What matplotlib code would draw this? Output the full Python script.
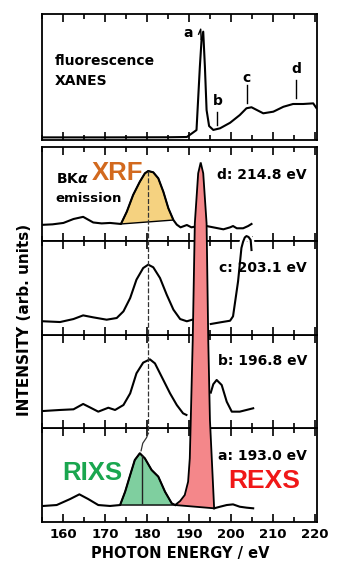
import matplotlib.pyplot as plt
import matplotlib.patheffects as pe
from matplotlib.ticker import MultipleLocator

plt.rcParams['font.family'] = 'DejaVu Sans'
plt.rcParams['font.weight'] = 'bold'
plt.rcParams['axes.labelweight'] = 'bold'

# fluorescence XANES (top panel)
xanes_e = [155.0, 170.0, 185.0, 189.5, 191.8, 192.6, 193.0, 193.4, 193.8, 194.2, 194.8, 195.8,
           197.4, 199.8, 202.1, 203.7, 204.9, 207.7, 210.1, 212.5, 214.8, 217.2, 219.6, 220.4]
xanes_i = [0.021, 0.021, 0.022, 0.024, 0.079, 0.582, 0.794, 0.860, 0.582, 0.238, 0.111, 0.080,
           0.093, 0.137, 0.198, 0.252, 0.260, 0.212, 0.225, 0.264, 0.286, 0.286, 0.291, 0.252]

# emission spectra, one panel per excitation energy
d_e = [155.2, 157.5, 160.1, 162.5, 164.8, 167.2, 169.2, 171.2, 173.8, 175.2, 176.7, 178.3,
       179.5, 180.3, 181.5, 182.7, 183.9, 185.1, 186.3, 187.1, 188.0, 189.5, 190.6, 191.3]
d_i = [0.170, 0.175, 0.190, 0.232, 0.255, 0.195, 0.185, 0.190, 0.179, 0.310, 0.488, 0.630,
       0.719, 0.744, 0.730, 0.666, 0.523, 0.346, 0.221, 0.172, 0.143, 0.168, 0.143, 0.150]
d_e2 = [194.2, 195.8, 198.2, 199.8, 200.5, 201.4, 202.9, 204.1, 204.9]
d_i2 = [0.157, 0.143, 0.122, 0.143, 0.157, 0.133, 0.133, 0.157, 0.179]

c_e = [155.3, 159.3, 162.5, 164.8, 167.2, 170.4, 172.8, 174.4, 176.0, 177.5, 179.1, 180.3,
       181.5, 183.1, 184.7, 186.3, 187.9, 189.5, 190.8]
c_i = [0.141, 0.133, 0.165, 0.204, 0.183, 0.158, 0.176, 0.247, 0.389, 0.585, 0.709, 0.745,
       0.717, 0.603, 0.425, 0.265, 0.165, 0.141, 0.158]
c_e2 = [195.2, 197.5, 199.8, 200.5, 201.1, 201.7, 202.5, 202.9, 203.3, 203.7, 204.2, 204.7, 204.9]
c_i2 = [0.112, 0.130, 0.147, 0.194, 0.380, 0.567, 0.923, 0.990, 1.035, 1.050, 1.040, 1.008, 0.901]

b_e = [155.3, 159.3, 162.5, 164.8, 166.4, 168.4, 170.8, 172.4, 174.4, 176.0, 177.5, 179.1,
       180.7, 181.9, 183.5, 185.5, 187.1, 188.6, 189.4]
b_i = [0.184, 0.195, 0.202, 0.259, 0.223, 0.177, 0.219, 0.195, 0.248, 0.372, 0.586, 0.700,
       0.735, 0.692, 0.550, 0.372, 0.248, 0.159, 0.142]
b_e2 = [195.2, 195.8, 196.6, 197.8, 199.0, 200.2, 202.1, 203.7, 205.3]
b_i2 = [0.380, 0.470, 0.515, 0.461, 0.283, 0.177, 0.177, 0.195, 0.213]

a_e = [155.3, 158.5, 161.7, 163.9, 166.0, 168.4, 171.2, 173.6, 174.8, 176.0, 177.1, 178.3,
       179.5, 181.1, 182.7, 184.3, 185.9, 186.7]
a_i = [0.171, 0.181, 0.245, 0.295, 0.245, 0.181, 0.171, 0.181, 0.323, 0.501, 0.661, 0.733,
       0.679, 0.555, 0.484, 0.323, 0.199, 0.181]
a_e2 = [196.0, 197.4, 199.0, 200.5, 202.1, 203.7, 205.3]
a_i2 = [0.146, 0.163, 0.181, 0.188, 0.163, 0.153, 0.146]

# elastic (REXS) peak outline, in units of the stacked panels (0..4)
rexs_e = [186.7, 187.9, 189.0, 189.8, 190.2, 190.4, 190.9, 191.4, 192.2, 192.8,
          193.4, 194.2, 194.6, 195.0, 196.0]
rexs_y = [0.181, 0.224, 0.288, 0.430, 0.679, 1.030, 1.940, 3.186, 3.720, 3.835,
          3.720, 3.186, 1.940, 1.090, 0.146]

marker_e = [189.8, 196.8, 203.8, 215.6]   # a, b, c, d on XANES
panel_labels = ['a: 193.0 eV', 'b: 196.8 eV', 'c: 203.1 eV', 'd: 214.8 eV']
label_y = [0.661, 0.675, 0.67, 0.655]

fig = plt.figure(figsize=(3.39, 5.61), dpi=100)
L, W = 0.1239, 0.8112
h = 0.16711
y0 = 0.06952

ax_top = fig.add_axes([L, 0.7504, W, 0.2246])
axes = [fig.add_axes([L, y0 + i * h, W, h]) for i in range(4)]
ax_a, ax_b, ax_c, ax_d = axes


def style(ax, labels=False):
    ax.set_xlim(155, 220.5)
    ax.set_ylim(0, 1)
    ax.xaxis.set_major_locator(MultipleLocator(10))
    ax.xaxis.set_minor_locator(MultipleLocator(5))
    ax.tick_params(axis='x', which='both', direction='in', top=True, bottom=True,
                   width=1.2, labelbottom=labels, labelsize=9.5, pad=4)
    ax.tick_params(axis='x', which='major', length=6)
    ax.tick_params(axis='x', which='minor', length=3.5)
    ax.set_yticks([])
    for s in ax.spines.values():
        s.set_linewidth(1.3)


style(ax_top)
for ax in axes:
    style(ax, labels=(ax is ax_a))

lw = 1.5
# top panel
ax_top.plot(xanes_e, xanes_i, color='black', lw=lw)
ax_top.text(158.1, 0.595, 'fluorescence', fontsize=10)
ax_top.text(158.1, 0.437, 'XANES', fontsize=10)
ax_top.text(marker_e[0], 0.82, 'a', fontsize=10, ha='center')
ax_top.plot([192.3, 192.8, 192.9], [0.84, 0.88, 0.80], color='black', lw=1)
ax_top.text(marker_e[1], 0.278, 'b', fontsize=10, ha='center')
ax_top.plot([marker_e[1], marker_e[1]], [0.119, 0.225], color='black', lw=1)
ax_top.text(marker_e[2], 0.46, 'c', fontsize=10, ha='center')
ax_top.plot([marker_e[2], marker_e[2]], [0.29, 0.437], color='black', lw=1)
ax_top.text(marker_e[3], 0.529, 'd', fontsize=10, ha='center')
ax_top.plot([marker_e[3], marker_e[3]], [0.331, 0.476], color='black', lw=1)

# panel d with XRF fill
ax_d.fill(d_e[8:19], d_i[8:19], facecolor='#f5d280', edgecolor='black', lw=1, zorder=1)
ax_d.plot(d_e, d_i, color='black', lw=lw)
ax_d.plot(d_e2, d_i2, color='black', lw=lw)
ax_d.text(158.3, 0.613, r'BK$\alpha$', fontsize=10)
ax_d.text(158.3, 0.417, 'emission', fontsize=9.5)
ax_d.text(173.1, 0.648, 'XRF', fontsize=18.5, color='#d2691e', ha='center',
          family='Liberation Sans')

# panel c, elastic peak runs over the top edge
ax_c.set_zorder(ax_d.get_zorder() + 1)
ax_c.plot(c_e, c_i, color='black', lw=lw)
ax_c.plot(c_e2, c_i2, color='black', lw=lw, clip_on=False, zorder=3,
          path_effects=[pe.Stroke(linewidth=5, foreground='white'), pe.Normal()])

ax_b.plot(b_e, b_i, color='black', lw=lw)
ax_b.plot(b_e2, b_i2, color='black', lw=lw)

# panel a with RIXS fill
ax_a.fill(a_e[7:18], a_i[7:18], facecolor='#7fcf9f', edgecolor='black', lw=1, zorder=1)
ax_a.plot(a_e, a_i, color='black', lw=lw)
ax_a.plot(a_e2, a_i2, color='black', lw=lw)
ax_a.text(166.9, 0.448, 'RIXS', fontsize=18.5, color='#1aa64f', ha='center',
          family='Liberation Sans')
ax_a.text(207.9, 0.36, 'REXS', fontsize=19, color='#f01818', ha='center',
          family='Liberation Sans')
for ax, lab, ly in zip(axes, panel_labels, label_y):
    ax.text(218.1, ly, lab, fontsize=10, ha='right')

# overlay for things that cross panels
ov = fig.add_axes([L, y0, W, 4 * h])
ov.set_xlim(155, 220.5)
ov.set_ylim(0, 4)
ov.axis('off')
ov.set_zorder(ax_c.get_zorder() + 1)
ov.fill(rexs_e, rexs_y, facecolor='#f4878a', edgecolor='black', lw=1.3)
ov.plot([180.3, 180.3], [3.744, 0.946], color='#333333', lw=0.9, ls=(0, (4, 1.5)))
ov.plot([180.3, 179.9, 179.0, 178.6], [0.946, 0.90, 0.84, 0.76], color='#333333', lw=0.9)
ov.plot([178.7, 178.7], [0.70, 0.20], color='#222222', lw=1)

fig.text(0.531, 0.006, 'PHOTON ENERGY / eV', fontsize=10.5, ha='center', va='baseline')
fig.text(0.0737, 0.4296, 'INTENSITY (arb. units)', rotation=90, fontsize=11,
         ha='center', va='center')

fig.savefig('out.png', dpi=100)
